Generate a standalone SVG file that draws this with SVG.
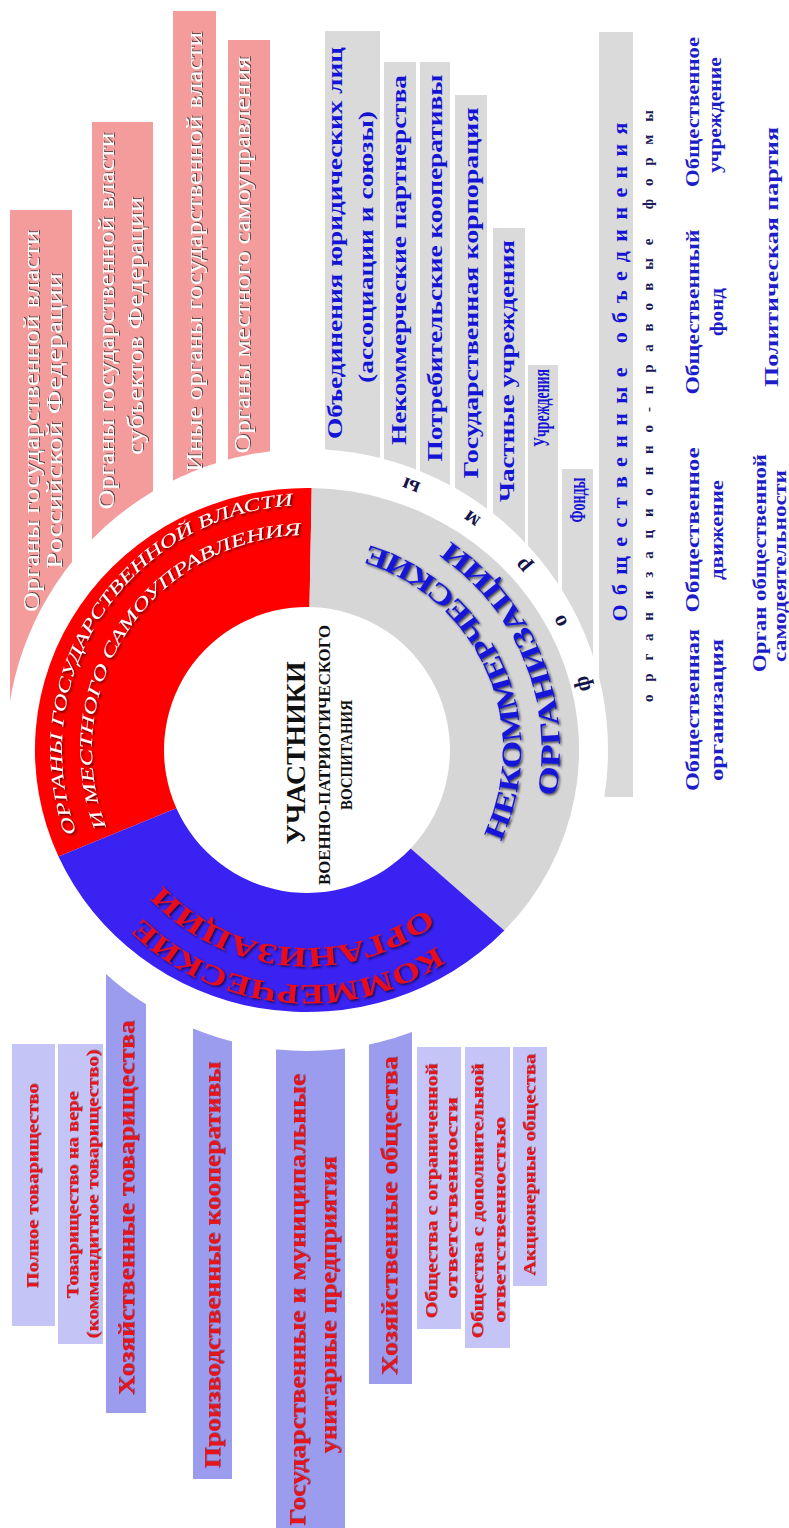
<svg xmlns="http://www.w3.org/2000/svg" width="789" height="1528" viewBox="0 0 789 1528">
<defs>
<style>
text{font-family:'Liberation Serif','Times New Roman',serif;text-anchor:middle}
.pk{fill:#fff;font-size:23px;filter:url(#sh)}
.gb{fill:#1414d4;font-size:21px;font-weight:bold}
.fm{fill:#1e1ec8;font-size:19px;font-weight:bold}
.cs{fill:#e3121a;font-size:16px;font-weight:bold;filter:url(#sh2)}
.cb{fill:#e3121a;font-size:23px;font-weight:bold;filter:url(#sh2)}
.ctr{fill:#111;font-weight:bold}
.pinkbox{fill:#f49c9c}
.greybox{fill:#dadada}
.lav{fill:#c4c4f6}
.lavd{fill:#9c9cef}
.ringw{font-size:18px;font-style:italic;fill:#fff;filter:url(#sh3)}
.ringr{font-size:28px;font-weight:bold;fill:#e8101a;filter:url(#sh3)}
.ringb{font-size:28px;font-weight:bold;fill:#1616d8;filter:url(#sh3)}
.frm{font-size:22px;font-weight:bold;fill:#14144a}
</style>
<filter id="sh" x="-10%" y="-30%" width="120%" height="160%"><feDropShadow dx="1" dy="1" stdDeviation="0.6" flood-color="#333" flood-opacity="0.8"/></filter>
<filter id="sh2" x="-10%" y="-30%" width="120%" height="160%"><feDropShadow dx="0.8" dy="0.8" stdDeviation="0.5" flood-color="#600" flood-opacity="0.5"/></filter>
<filter id="sh3" x="-10%" y="-10%" width="120%" height="120%"><feDropShadow dx="1.5" dy="1.5" stdDeviation="1.2" flood-color="#000" flood-opacity="0.7"/></filter>
<path id="pRo" d="M91.7,866.9 A245,245 0 0 1 330.5,506.1"/>
<path id="pRi" d="M117.6,851.8 A215,215 0 0 1 328.5,536.1"/>
<path id="pBo" d="M498.1,886.8 A235,235 0 0 1 93.0,847.1"/>
<path id="pBi" d="M469.2,863.6 A198,198 0 0 1 127.6,833.7"/>
<path id="pGi" d="M475.6,881.8 A214,214 0 0 0 321.9,536.5"/>
<path id="pGo" d="M507.7,904.0 A253,253 0 0 0 340.0,499.2"/>
</defs>
<rect width="789" height="1528" fill="#fff"/>

<g id="gov-rf">
<rect class="pinkbox" x="10" y="210" width="62" height="510"/>
<text class="pk" transform="translate(39,421) rotate(-90)" textLength="382" lengthAdjust="spacingAndGlyphs">Органы государственной власти</text>
<text class="pk" transform="translate(62,421) rotate(-90)" textLength="296" lengthAdjust="spacingAndGlyphs">Российской Федерации</text>
</g>
<g id="gov-subj">
<rect class="pinkbox" x="92" y="122" width="61" height="438"/>
<text class="pk" transform="translate(114,321) rotate(-90)" textLength="377" lengthAdjust="spacingAndGlyphs">Органы государственной власти</text>
<text class="pk" transform="translate(143,326) rotate(-90)" textLength="258" lengthAdjust="spacingAndGlyphs">субъектов Федерации</text>
</g>
<g id="gov-other">
<rect class="pinkbox" x="173" y="11" width="43" height="489"/>
<text class="pk" transform="translate(202,252) rotate(-90)" textLength="440" lengthAdjust="spacingAndGlyphs">Иные органы государственной власти</text>
</g>
<g id="gov-local">
<rect class="pinkbox" x="228" y="40" width="42" height="450"/>
<text class="pk" transform="translate(250,255) rotate(-90)" textLength="397" lengthAdjust="spacingAndGlyphs">Органы местного самоуправления</text>
</g>

<g id="nko-assoc">
<rect class="greybox" x="325" y="31" width="55" height="469"/>
<text class="gb" transform="translate(342,243) rotate(-90)" textLength="392" lengthAdjust="spacingAndGlyphs">Объединения юридических лиц</text>
<text class="gb" transform="translate(373,247) rotate(-90)" textLength="272" lengthAdjust="spacingAndGlyphs">(ассоциации и союзы)</text>
</g>
<g id="nko-partner">
<rect class="greybox" x="384" y="62" width="32" height="450"/>
<text class="gb" transform="translate(406,260) rotate(-90)" textLength="370" lengthAdjust="spacingAndGlyphs">Некоммерческие партнерства</text>
</g>
<g id="nko-coop">
<rect class="greybox" x="420" y="62" width="30" height="460"/>
<text class="gb" transform="translate(442,268) rotate(-90)" textLength="387" lengthAdjust="spacingAndGlyphs">Потребительские кооперативы</text>
</g>
<g id="nko-corp">
<rect class="greybox" x="455" y="95" width="32" height="445"/>
<text class="gb" transform="translate(478,293) rotate(-90)" textLength="371" lengthAdjust="spacingAndGlyphs">Государственная корпорация</text>
</g>
<g id="nko-private">
<rect class="greybox" x="493" y="228" width="32" height="352"/>
<text class="gb" transform="translate(514,371) rotate(-90)" textLength="262" lengthAdjust="spacingAndGlyphs">Частные учреждения</text>
</g>
<g id="nko-inst">
<rect class="greybox" x="528" y="365" width="30" height="255"/>
<text class="gb" style="font-size:24px" transform="translate(549,408) rotate(-90)" textLength="78" lengthAdjust="spacingAndGlyphs">Учреждения</text>
</g>
<g id="nko-funds">
<rect class="greybox" x="562" y="469" width="31" height="231"/>
<text class="gb" style="font-size:24px" transform="translate(585,500) rotate(-90)" textLength="45" lengthAdjust="spacingAndGlyphs">Фонды</text>
</g>
<g id="nko-public">
<rect class="greybox" x="599" y="32" width="34" height="765"/>
<text class="gb" style="font-size:22px" transform="translate(627,372) rotate(-90)" textLength="499" lengthAdjust="spacing">Общественные объединения</text>
</g>
<g id="forms-title">
<text style="font-size:15px;font-weight:bold;fill:#1a1a5a" transform="translate(653,406) rotate(-90)" textLength="592" lengthAdjust="spacing">организационно-правовые формы</text>
</g>
<g id="form-org">
<text class="fm" transform="translate(699,710) rotate(-90)" textLength="162" lengthAdjust="spacingAndGlyphs">Общественная</text>
<text class="fm" transform="translate(723,710) rotate(-90)" textLength="142" lengthAdjust="spacingAndGlyphs">организация</text>
</g>
<g id="form-movement">
<text class="fm" transform="translate(699,530) rotate(-90)" textLength="165" lengthAdjust="spacingAndGlyphs">Общественное</text>
<text class="fm" transform="translate(723,530) rotate(-90)" textLength="100" lengthAdjust="spacingAndGlyphs">движение</text>
</g>
<g id="form-fund">
<text class="fm" transform="translate(699,312) rotate(-90)" textLength="165" lengthAdjust="spacingAndGlyphs">Общественный</text>
<text class="fm" transform="translate(723,312) rotate(-90)" textLength="48" lengthAdjust="spacingAndGlyphs">фонд</text>
</g>
<g id="form-inst">
<text class="fm" transform="translate(699,112) rotate(-90)" textLength="150" lengthAdjust="spacingAndGlyphs">Общественное</text>
<text class="fm" transform="translate(721,115) rotate(-90)" textLength="116" lengthAdjust="spacingAndGlyphs">учреждение</text>
</g>
<g id="form-self">
<text class="fm" transform="translate(766,563) rotate(-90)" textLength="218" lengthAdjust="spacingAndGlyphs">Орган общественной</text>
<text class="fm" transform="translate(786,566) rotate(-90)" textLength="192" lengthAdjust="spacingAndGlyphs">самодеятельности</text>
</g>
<g id="form-party">
<text class="fm" transform="translate(778,257) rotate(-90)" textLength="260" lengthAdjust="spacingAndGlyphs">Политическая партия</text>
</g>

<g id="com-full">
<rect class="lav" x="12" y="1044" width="43" height="282"/>
<text class="cs" style="font-size:17px" transform="translate(38,1186) rotate(-90)" textLength="205" lengthAdjust="spacingAndGlyphs">Полное товарищество</text>
</g>
<g id="com-limited">
<rect class="lav" x="58" y="1044" width="45" height="300"/>
<text class="cs" style="font-size:17px" transform="translate(78,1195) rotate(-90)" textLength="207" lengthAdjust="spacingAndGlyphs">Товарищество на вере</text>
<text class="cs" transform="translate(98,1194) rotate(-90)" textLength="289" lengthAdjust="spacingAndGlyphs">(коммандитное товарищество)</text>
</g>
<g id="com-partnerships">
<rect class="lavd" x="106" y="960" width="40" height="453"/>
<text class="cb" transform="translate(134,1208) rotate(-90)" textLength="375" lengthAdjust="spacingAndGlyphs">Хозяйственные товарищества</text>
</g>
<g id="com-coop">
<rect class="lavd" x="193" y="1010" width="39" height="469"/>
<text class="cb" transform="translate(220,1265) rotate(-90)" textLength="407" lengthAdjust="spacingAndGlyphs">Производственные кооперативы</text>
</g>
<g id="com-unitary">
<rect class="lavd" x="276" y="1030" width="69" height="498"/>
<text class="cb" transform="translate(305,1300) rotate(-90)" textLength="452" lengthAdjust="spacingAndGlyphs">Государственные и муниципальные</text>
<text class="cb" transform="translate(336,1305) rotate(-90)" textLength="297" lengthAdjust="spacingAndGlyphs">унитарные предприятия</text>
</g>
<g id="com-societies">
<rect class="lavd" x="369" y="1020" width="43" height="364"/>
<text class="cb" transform="translate(397,1216) rotate(-90)" textLength="319" lengthAdjust="spacingAndGlyphs">Хозяйственные общества</text>
</g>
<g id="com-llc">
<rect class="lav" x="417" y="1047" width="44" height="282"/>
<text class="cs" transform="translate(437,1191) rotate(-90)" textLength="255" lengthAdjust="spacingAndGlyphs">Общества с ограниченной</text>
<text class="cs" transform="translate(457,1198) rotate(-90)" textLength="202" lengthAdjust="spacingAndGlyphs">ответственности</text>
</g>
<g id="com-alc">
<rect class="lav" x="465" y="1047" width="45" height="301"/>
<text class="cs" transform="translate(483,1201) rotate(-90)" textLength="275" lengthAdjust="spacingAndGlyphs">Общества с дополнительной</text>
<text class="cs" transform="translate(505,1220) rotate(-90)" textLength="206" lengthAdjust="spacingAndGlyphs">ответственностью</text>
</g>
<g id="com-jsc">
<rect class="lav" x="513" y="1047" width="34" height="239"/>
<text class="cs" transform="translate(535,1165) rotate(-90)" textLength="222" lengthAdjust="spacingAndGlyphs">Акционерные общества</text>
</g>

<circle cx="307" cy="750" r="301" fill="#fff"/>

<g id="ring">
<path id="seg-gov" fill="#fe0000" d="M58.5,856.6 A272,262 0 0 1 311.7,488.0 L309.5,607.0 A143,143 0 0 0 176.4,808.2 Z"/>
<path id="seg-nko" fill="#d6d6d6" d="M311.7,488.0 A272,262 0 0 1 504.3,930.4 L410.7,848.4 A143,143 0 0 0 309.5,607.0 Z"/>
<path id="seg-com" fill="#3a22f2" d="M504.3,930.4 A272,262 0 0 1 58.5,856.6 L176.4,808.2 A143,143 0 0 0 410.7,848.4 Z"/>
</g>
<g id="ring-labels">
<text id="lbl-gov" class="ringw"><textPath href="#pRo" startOffset="50%" textLength="455" lengthAdjust="spacingAndGlyphs">ОРГАНЫ ГОСУДАРСТВЕННОЙ ВЛАСТИ</textPath><textPath href="#pRi" startOffset="50%" textLength="410" lengthAdjust="spacingAndGlyphs">И МЕСТНОГО САМОУПРАВЛЕНИЯ</textPath></text>
<text id="lbl-com" class="ringr"><textPath href="#pBo" startOffset="50%" textLength="320" lengthAdjust="spacingAndGlyphs">КОММЕРЧЕСКИЕ</textPath><textPath href="#pBi" startOffset="50%" textLength="290" lengthAdjust="spacingAndGlyphs">ОРГАНИЗАЦИИ</textPath></text>
<text id="lbl-nko" class="ringb"><textPath href="#pGi" startOffset="50%" textLength="368" lengthAdjust="spacingAndGlyphs">НЕКОММЕРЧЕСКИЕ</textPath><textPath href="#pGo" startOffset="50%" textLength="292" lengthAdjust="spacingAndGlyphs">ОРГАНИЗАЦИИ</textPath></text>
</g>
<g id="forms-arc">
<text class="frm" transform="translate(589.0,682.3) rotate(-103.5)">ф</text>
<text class="frm" transform="translate(565.4,618.3) rotate(-117)">о</text>
<text class="frm" transform="translate(527.5,561.7) rotate(-130.5)">р</text>
<text class="frm" transform="translate(475.4,513.9) rotate(-144.5)">м</text>
<text class="frm" transform="translate(413.3,480.2) rotate(-158.5)">ы</text>
</g>
<g id="center">
<text class="ctr" style="font-size:27px" transform="translate(305,753) rotate(-90)" textLength="183" lengthAdjust="spacingAndGlyphs">УЧАСТНИКИ</text>
<text class="ctr" style="font-size:16px" transform="translate(330,755) rotate(-90)" textLength="260" lengthAdjust="spacingAndGlyphs">ВОЕННО-ПАТРИОТИЧЕСКОГО</text>
<text class="ctr" style="font-size:16px" transform="translate(352,755) rotate(-90)" textLength="110" lengthAdjust="spacingAndGlyphs">ВОСПИТАНИЯ</text>
</g>
</svg>
